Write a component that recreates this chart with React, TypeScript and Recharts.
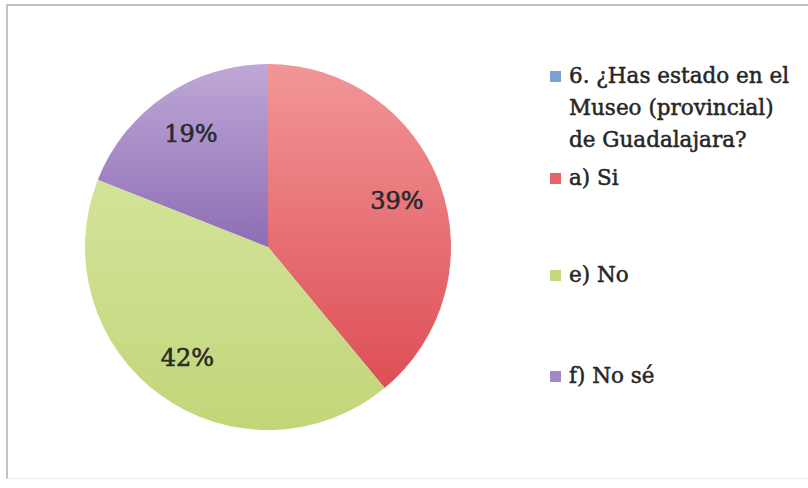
import React from 'react';
import { PieChart, Pie, Cell, Legend } from 'recharts';

const categories = [
  '6. ¿Has estado en el Museo (provincial) de Guadalajara?',
  'a) Si',
  'e) No',
  'f) No sé',
];
const values = [0, 39, 42, 19];
const percentLabels = ['', '39%', '42%', '19%'];
const legendColors = ['#7BA0D4', '#E8626A', '#C5D981', '#A28AC7'];
const fillIds = ['gBlue', 'gRed', 'gGreen', 'gPurple'];

const data = categories.map((name, i) => ({ name, value: values[i], label: percentLabels[i] }));

const FONT = '"DejaVu Serif", "Liberation Serif", serif';
const RAD = Math.PI / 180;

const renderLabel = (props: any) => {
  const { cx, cy, midAngle, index } = props;
  if (!values[index]) return null;
  const r = 137;
  const x = cx + r * Math.cos(-midAngle * RAD);
  const y = cy + r * Math.sin(-midAngle * RAD);
  return (
    <text
      x={x}
      y={y}
      textAnchor="middle"
      dominantBaseline="central"
      fontFamily={FONT}
      fontSize={24}
      fill="#2A2A2A"
      stroke="#2A2A2A"
      strokeWidth={0.6}
    >
      {percentLabels[index]}
    </text>
  );
};

const legendGaps = [0, 6.5, 64.5, 69];

const renderLegend = () => (
  <div
    style={{
      fontFamily: FONT,
      fontSize: 21.5,
      lineHeight: '32px',
      color: '#262626',
      WebkitTextStroke: '0.5px #262626',
    }}
  >
    {categories.map((name, i) => (
      <div key={name} style={{ position: 'relative', marginTop: legendGaps[i], paddingLeft: 19, width: 228 }}>
        <span
          style={{
            position: 'absolute',
            left: 0,
            top: 11,
            width: 11,
            height: 11,
            background: legendColors[i],
          }}
        />
        {name}
      </div>
    ))}
  </div>
);

export default function App() {
  return (
    <div style={{ position: 'absolute', left: 0, top: 0, width: 808, height: 488, background: '#fff', overflow: 'hidden' }}>
      <div
        style={{
          position: 'absolute',
          left: 6,
          top: 4,
          width: 900,
          height: 472,
          borderLeft: '2px solid #C2C2C2',
          borderTop: '2px solid #C2C2C2',
          borderBottom: '1px solid #EEEEEE',
        }}
      />
      <PieChart width={808} height={488} margin={{ top: 0, right: 0, bottom: 0, left: 0 }} style={{ position: 'absolute', left: 0, top: 0 }}>
        <defs>
          <linearGradient id="gRed" gradientUnits="userSpaceOnUse" x1="0" y1="64" x2="0" y2="430">
            <stop offset="0" stopColor="#F29698" />
            <stop offset="1" stopColor="#DA454C" />
          </linearGradient>
          <linearGradient id="gGreen" gradientUnits="userSpaceOnUse" x1="0" y1="64" x2="0" y2="430">
            <stop offset="0.3" stopColor="#D3E39A" />
            <stop offset="1" stopColor="#C2D679" />
          </linearGradient>
          <linearGradient id="gPurple" gradientUnits="userSpaceOnUse" x1="0" y1="64" x2="0" y2="430">
            <stop offset="0" stopColor="#BFA8D6" />
            <stop offset="0.5" stopColor="#8D6DB5" />
          </linearGradient>
          <linearGradient id="gBlue" gradientUnits="userSpaceOnUse" x1="0" y1="64" x2="0" y2="430">
            <stop offset="0" stopColor="#8FB0DD" />
            <stop offset="1" stopColor="#4F81BD" />
          </linearGradient>
        </defs>
        <Pie
          data={data}
          dataKey="value"
          nameKey="name"
          cx={268}
          cy={247}
          outerRadius={183}
          startAngle={90}
          endAngle={-270}
          stroke="none"
          label={renderLabel}
          labelLine={false}
          isAnimationActive={false}
        >
          {data.map((d, i) => (
            <Cell key={d.name} fill={`url(#${fillIds[i]})`} />
          ))}
        </Pie>
        <Legend
          content={renderLegend}
          wrapperStyle={{ position: 'absolute', left: 550, top: 59.5, width: 250, height: 'auto' }}
        />
      </PieChart>
    </div>
  );
}
